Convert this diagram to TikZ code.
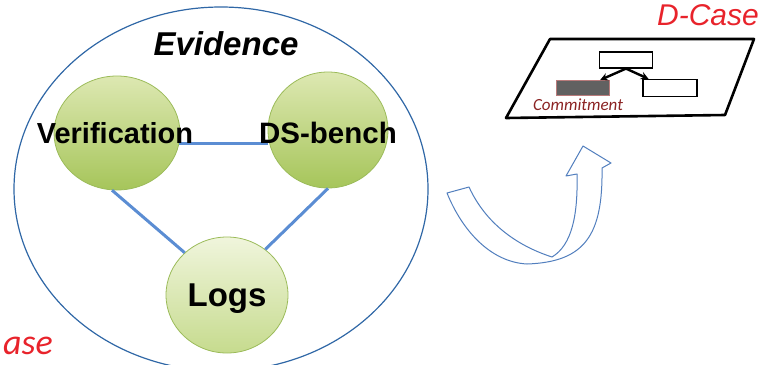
\documentclass[tikz,border=0pt]{standalone}
\usepackage{fontspec}
\setmainfont{Liberation Sans}
\newfontfamily\calib{Carlito}
\usetikzlibrary{arrows,shapes,positioning}
\definecolor{ringblue}{HTML}{2F67A6}
\definecolor{linkblue}{HTML}{5B8DD3}
\definecolor{leafgreen}{HTML}{9BBB59}
\definecolor{leaftop}{HTML}{DDE8B2}
\definecolor{leafbot}{HTML}{A6C55A}
\definecolor{logtop}{HTML}{F0F5DC}
\definecolor{logbot}{HTML}{C6DB8E}
\definecolor{caseRed}{HTML}{E8232B}
\definecolor{commitred}{HTML}{8B2323}
\tikzstyle{bubble} = [ellipse, draw=leafgreen, thick, top color=leaftop, bottom color=leafbot, inner sep=0pt]
\tikzstyle{bubtext} = [anchor=base, inner sep=0pt, font=\bfseries]
\tikzstyle{link}   = [linkblue, line width=3pt]
\tikzstyle{arrow}  = [line width=2.4pt,->,>=stealth]
\tikzstyle{card}   = [draw, line width=1.2pt, fill=white, minimum width=53pt, minimum height=16pt, inner sep=0pt]

\begin{document}
\begin{tikzpicture}[x=1pt,y=-1pt]
    \useasboundingbox (0,0) rectangle (770,364);
    % evidence side
    \node[ellipse, draw=ringblue, line width=1.2pt, minimum width=414pt, minimum height=364pt, inner sep=0pt] (evid) at (221,189) {};
    \node[anchor=base, inner sep=0pt, font=\fontsize{33}{33}\selectfont\bfseries\itshape] (evtitle) at (226,55) {Evidence};
    \node[bubble, minimum width=126pt, minimum height=114pt] (ver) at (117,133) {};
    \node[bubble, minimum width=120pt, minimum height=116pt] (dsb) at (328,130) {};
    \node[bubble, top color=logtop, bottom color=logbot, minimum width=122pt, minimum height=116pt] (logs) at (227,295) {};
    \draw[link] (ver.-10) -- (ver.-10 -| dsb.west);
    \draw[link] (ver.265) -- (logs.135);
    \draw[link] (dsb.270) -- (logs.50);
    \node[bubtext, font=\fontsize{29}{29}\selectfont\bfseries] (vertext) at (115,143) {Verification};
    \node[bubtext, font=\fontsize{29.5}{29.5}\selectfont\bfseries] (dsbtext) at (328,143) {DS-bench};
    \node[bubtext, font=\fontsize{33}{33}\selectfont\bfseries] (logtext) at (227,306) {Logs};
    \node[anchor=base west, inner sep=0pt, text=caseRed, font=\calib\fontsize{36}{36}\selectfont\itshape] (leftcase) at (3,354) {ase};
    % turning arrow
    \draw[draw=linkblue!90!black, line width=1pt, fill=white, line join=round]
        (447,193) .. controls (462,230) and (490,262) .. (527,264)
        .. controls (585,262) and (603,235) .. (602,168)
        -- (611,163) -- (583,146) -- (566,176) -- (577,174)
        .. controls (578,215) and (572,245) .. (552,257)
        .. controls (515,245) and (485,222) .. (469,187) -- cycle;
    % d-case side
    \node[anchor=base, inner sep=0pt, text=caseRed, font=\fontsize{30}{30}\selectfont\itshape] (dcase) at (708,25) {D-Case};
    \draw[line width=2.6pt, line join=round] (550,39) -- (754,39) -- (725,115) -- (506,118) -- cycle;
    \node[card] (goal) at (626,60) {};
    \node[card, minimum height=17pt, minimum width=54pt] (sub) at (670,88) {};
    \node[card, draw=commitred!60, line width=1pt, fill=black!62, minimum height=15pt] (commit) at (583,88) {};
    \draw[arrow] (goal.south) -- (commit.25);
    \draw[arrow] (goal.south) -- (sub.157);
    \node[anchor=base, inner sep=0pt, text=commitred, font=\calib\fontsize{17}{17}\selectfont\itshape] (committext) at (578,110) {Commitment};
\end{tikzpicture}
\end{document}
